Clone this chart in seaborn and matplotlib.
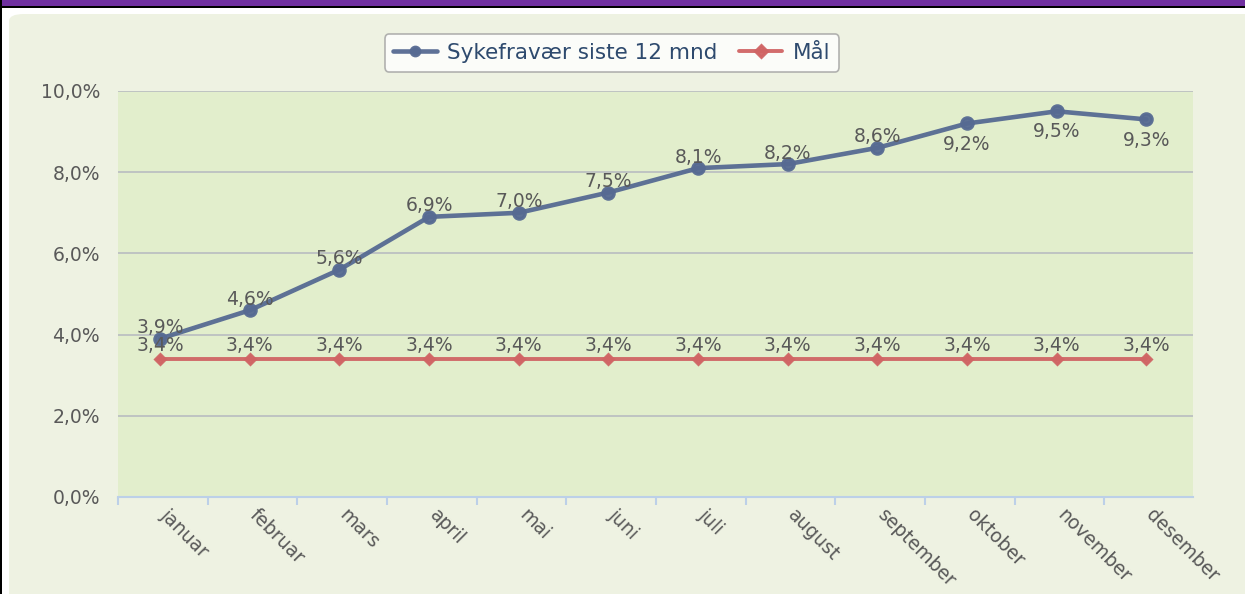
import matplotlib
matplotlib.use("Agg")
import matplotlib.pyplot as plt
import matplotlib.transforms as mtransforms
import seaborn as sns
import pandas as pd
from matplotlib.patches import FancyBboxPatch, Rectangle
from matplotlib.ticker import FuncFormatter, FixedLocator

months = ["januar", "februar", "mars", "april", "mai", "juni", "juli",
          "august", "september", "oktober", "november", "desember"]
sykefravaer = [3.9, 4.6, 5.6, 6.9, 7.0, 7.5, 8.1, 8.2, 8.6, 9.2, 9.5, 9.3]
maal = [3.4] * 12
label_below = [False] * 9 + [True, True, True]

series1 = "Sykefravær siste 12 mnd"
series2 = "Mål"

sns.set_style("white")
plt.rcParams['font.family'] = ['DejaVu Sans']

BLUE = "#566A92"
RED = "#D06464"
TXT = "#595959"
FS = 13.5

fig = plt.figure(figsize=(12.45, 5.94), dpi=100)
fig.patch.set_facecolor("white")

# outer frame decorations
fig.add_artist(Rectangle((0, 1 - 6 / 594), 1, 6 / 594, transform=fig.transFigure,
                         facecolor="#7030A0", edgecolor="none", zorder=0))
fig.add_artist(Rectangle((0, 1 - 7.5 / 594), 1, 1.5 / 594, transform=fig.transFigure,
                         facecolor="black", edgecolor="none", zorder=0))
fig.add_artist(Rectangle((0, 0), 2 / 1245, 1, transform=fig.transFigure,
                         facecolor="black", edgecolor="none", zorder=0))
fig.add_artist(FancyBboxPatch((9 / 1245, -0.05), 1.2, 1 - 14 / 594 + 0.05,
                              boxstyle="round,pad=0,rounding_size=0.012",
                              transform=fig.transFigure, facecolor="#EEF2E2",
                              edgecolor="none", zorder=0))

ax = fig.add_axes([118 / 1245, 1 - 497 / 594, (1193 - 118) / 1245, (497 - 91) / 594])
ax.set_facecolor("#E2EECC")

df1 = pd.DataFrame({"month": months, "value": [v / 100 for v in sykefravaer]})
df2 = pd.DataFrame({"month": months, "value": [v / 100 for v in maal]})

sns.pointplot(data=df2, x="month", y="value", color=RED, markers="D",
              linestyles="-", ax=ax, label=series2, markersize=5, linewidth=2.8,
              errorbar=None)
sns.pointplot(data=df1, x="month", y="value", color=BLUE, markers="o",
              linestyles="-", ax=ax, label=series1, markersize=8, linewidth=3.3,
              errorbar=None)
for ln in ax.lines:
    ln.set_alpha(0.95)

# data labels
for i, (v, below) in enumerate(zip(sykefravaer, label_below)):
    ax.annotate(f"{v:.1f}%".replace(".", ","), (i, v / 100),
                xytext=(0, -8 if below else 4), textcoords="offset points",
                ha="center", va="top" if below else "baseline",
                fontsize=FS, color=TXT, zorder=5)
for i, v in enumerate(maal):
    ax.annotate(f"{v:.1f}%".replace(".", ","), (i, v / 100),
                xytext=(0, 5.5), textcoords="offset points",
                ha="center", va="baseline", fontsize=FS, color=TXT, zorder=5)

ax.set_xlim(-0.47, 11.52)
ax.set_ylim(0, 0.10)
ax.set_yticks([0, 0.02, 0.04, 0.06, 0.08, 0.10])
ax.yaxis.set_major_formatter(FuncFormatter(lambda y, _: f"{y * 100:.1f}%".replace(".", ",")))
ax.grid(axis="y", color="#B8BCC0", linewidth=1.2)
ax.grid(axis="x", visible=False)
ax.set_axisbelow(True)
ax.set_xlabel("")
ax.set_ylabel("")

for s in ["top", "right", "left"]:
    ax.spines[s].set_visible(False)
ax.spines["bottom"].set_color("#BCD0E8")
ax.spines["bottom"].set_linewidth(1.5)

ax.tick_params(axis="y", length=0, labelsize=FS, labelcolor=TXT, pad=13)
ax.tick_params(axis="x", which="major", length=0, labelsize=FS, labelcolor=TXT, pad=6)
ax.xaxis.set_minor_locator(FixedLocator([i - 0.47 for i in range(13)]))
ax.tick_params(axis="x", which="minor", bottom=True, length=6, color="#BCD0E8",
               width=1.5, direction="out")
shift = mtransforms.ScaledTranslation(7 / 72, 0, fig.dpi_scale_trans)
for lab in ax.get_xticklabels():
    lab.set_rotation(-45)
    lab.set_ha("left")
    lab.set_va("top")
    lab.set_rotation_mode("anchor")
    lab.set_transform(lab.get_transform() + shift)

handles, labels = ax.get_legend_handles_labels()
if ax.get_legend() is not None:
    ax.get_legend().remove()
order = [labels.index(series1), labels.index(series2)]
leg = fig.legend([handles[k] for k in order], [labels[k] for k in order],
                 loc="center", bbox_to_anchor=(612 / 1245, 1 - 53 / 594),
                 ncol=2, frameon=True, fontsize=15.5, handlelength=2.0,
                 columnspacing=1.0, handletextpad=0.5, borderpad=0.4,
                 fancybox=True)
leg.get_frame().set_facecolor("white")
leg.get_frame().set_edgecolor("#A0A0A0")
leg.get_frame().set_linewidth(1.2)
for h in leg.legend_handles:
    h.set_markersize(6)
for t in leg.get_texts():
    t.set_color("#2E4A6E")

fig.savefig("out.png", dpi=100, facecolor=fig.get_facecolor())
